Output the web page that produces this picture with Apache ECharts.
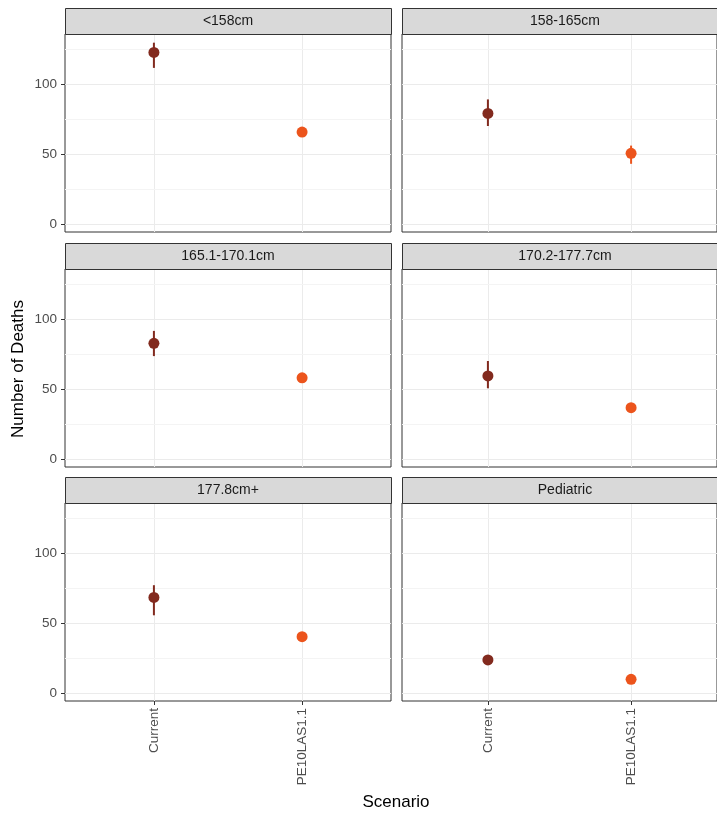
<!DOCTYPE html>
<html>
<head>
<meta charset="utf-8">
<script src="https://cdn.jsdelivr.net/npm/echarts@6/dist/echarts.min.js"></script>
<style>html,body{margin:0;padding:0;background:#fff}#c{width:717px;height:815px}</style>
</head>
<body>
<div id="c"></div>
<script>
const panels = ['<158cm', '158-165cm', '165.1-170.1cm', '170.2-177.7cm', '177.8cm+', 'Pediatric'];
const scenarios = ['Current', 'PE10LAS1.1'];
const currentDeaths = [122.5, 79, 82.6, 59.3, 68.3, 23.6];
const currentLow = [111.5, 70, 73.5, 50.5, 55.5, 21];
const currentHigh = [129.5, 89, 91.5, 70, 77, 26];
const peDeaths = [65.7, 50.5, 58, 36.7, 40.2, 9.8];
const peLow = [63, 43, 55.5, 34.5, 37.5, 8];
const peHigh = [68.5, 56, 60.5, 39, 43, 11.5];
const yTicks = [0, 50, 100];
const yMinor = [25, 75, 125];
const colors = ['#822A1E', '#EC541C'];

const FONT = 'Liberation Sans, Arial, sans-serif';
const colLeft = [65, 402];
const rowTop = [34, 269, 503];
const W = 326, H = 198, STRIP = 26;

const grid = [], xAxis = [], yAxis = [], series = [], graphic = [];
panels.forEach((name, i) => {
  const r = Math.floor(i / 2), c = i % 2;
  const left = colLeft[c], top = rowTop[r];
  grid.push({left: left, top: top, width: W, height: H, show: true,
    backgroundColor: '#fff', borderColor: '#333', borderWidth: 1, containLabel: false});
  xAxis.push({type: 'value', gridIndex: i, min: -0.6, max: 1.6, position: 'bottom',
    axisLine: {show: false, onZero: false},
    axisTick: {show: r === 2, customValues: [0, 1], length: 4, lineStyle: {color: '#333'}},
    axisLabel: {show: r === 2, customValues: [0, 1], rotate: 90, margin: 7,
      color: '#4D4D4D', fontSize: 13.5, fontFamily: FONT,
      formatter: v => scenarios[Math.round(v)]},
    splitLine: {show: true, lineStyle: {color: '#EBEBEB', width: 1}}
  });
  yAxis.push({type: 'value', gridIndex: i, min: -5.7, max: 135.7, position: 'left',
    axisLine: {show: false, onZero: false},
    axisTick: {show: c === 0, customValues: yTicks, length: 4, lineStyle: {color: '#333'}},
    axisLabel: {show: c === 0, customValues: yTicks, margin: 8,
      color: '#4D4D4D', fontSize: 13.5, fontFamily: FONT},
    splitLine: {show: true, lineStyle: {color: '#EBEBEB', width: 1}}
  });
  // minor gridlines
  series.push({type: 'line', xAxisIndex: i, yAxisIndex: i, data: [], silent: true, z: 1,
    markLine: {silent: true, z: 1, zlevel: 0, symbol: 'none', label: {show: false},
      lineStyle: {color: '#F4F4F4', width: 1, type: 'solid'},
      emphasis: {disabled: true},
      data: yMinor.map(v => ({yAxis: v}))}
  });
  // error bars
  series.push({type: 'custom', xAxisIndex: i, yAxisIndex: i, z: 3,
    encode: {x: 0, y: [1, 2]},
    data: [
      {value: [0, currentLow[i], currentHigh[i]], itemStyle: {color: colors[0]}},
      {value: [1, peLow[i], peHigh[i]], itemStyle: {color: colors[1]}}
    ],
    renderItem: (params, api) => {
      const p1 = api.coord([api.value(0), api.value(1)]);
      const p2 = api.coord([api.value(0), api.value(2)]);
      return {type: 'line', shape: {x1: p1[0], y1: p1[1], x2: p2[0], y2: p2[1]},
        style: {stroke: api.visual('color'), lineWidth: 2}};
    }
  });
  series.push({type: 'scatter', xAxisIndex: i, yAxisIndex: i, z: 4, symbolSize: 11,
    itemStyle: {opacity: 1},
    data: [
      {value: [0, currentDeaths[i]], itemStyle: {color: colors[0], opacity: 1}},
      {value: [1, peDeaths[i]], itemStyle: {color: colors[1], opacity: 1}}
    ]
  });
  // strip
  graphic.push({type: 'rect', left: left, top: top - STRIP, z: 10,
    shape: {width: W, height: STRIP},
    style: {fill: '#D9D9D9', stroke: '#333', lineWidth: 1}});
  graphic.push({type: 'text', x: left + W / 2, y: top - STRIP / 2, z: 11,
    style: {text: name, fill: '#1A1A1A', font: '14px ' + FONT, textAlign: 'center', textVerticalAlign: 'middle'}});
});
graphic.push({type: 'text', x: 18, y: 369, rotation: Math.PI / 2, z: 11,
  style: {text: 'Number of Deaths', fill: '#000', font: '17px ' + FONT, textAlign: 'center', textVerticalAlign: 'middle'}});
graphic.push({type: 'text', x: 396, y: 802, z: 11,
  style: {text: 'Scenario', fill: '#000', font: '17px ' + FONT, textAlign: 'center', textVerticalAlign: 'middle'}});

const chart = echarts.init(document.getElementById('c'));
chart.setOption({animation: false, backgroundColor: '#fff', grid, xAxis, yAxis, series, graphic});
</script>
</body>
</html>
